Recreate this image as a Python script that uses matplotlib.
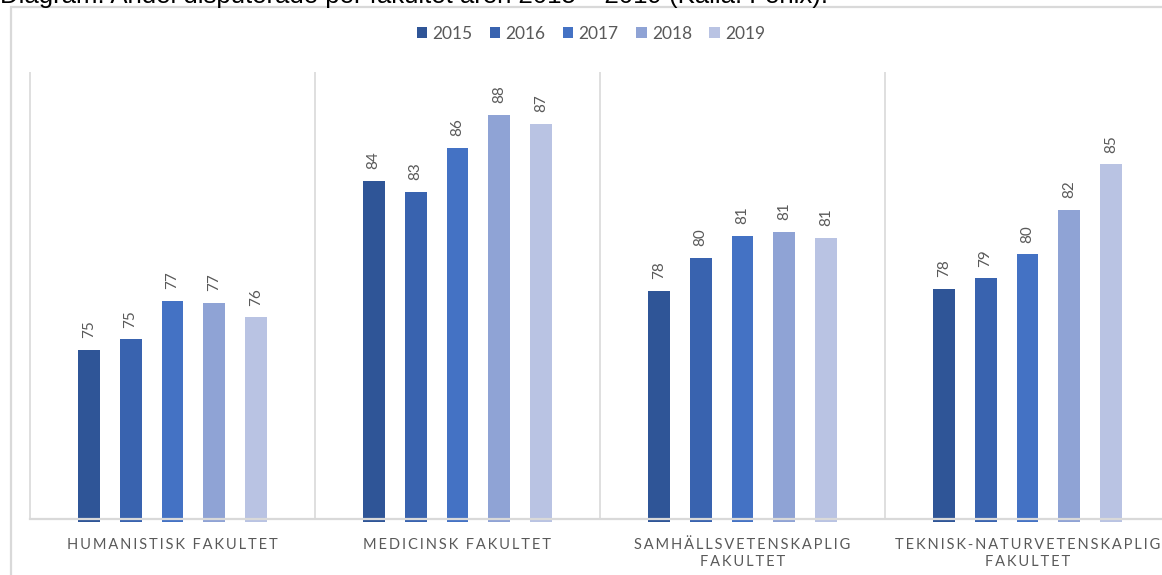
import numpy as np
import matplotlib
matplotlib.use("Agg")
import matplotlib.pyplot as plt
from matplotlib.patches import Patch, Rectangle

# --- data -------------------------------------------------------------
faculties = [
    "HUMANISTISK FAKULTET",
    "MEDICINSK FAKULTET",
    "SAMHÄLLSVETENSKAPLIG\nFAKULTET",
    "TEKNISK-NATURVETENSKAPLIG\nFAKULTET",
]
years = ["2015", "2016", "2017", "2018", "2019"]

share_2015 = [74.6, 83.98, 77.87, 77.96]
share_2016 = [75.16, 83.37, 79.68, 78.55]
share_2017 = [77.31, 85.77, 80.92, 79.88]
share_2018 = [77.18, 87.64, 81.11, 82.35]
share_2019 = [76.38, 87.13, 80.79, 84.87]
series = [share_2015, share_2016, share_2017, share_2018, share_2019]

colors = ["#2F5597", "#3963AF", "#4472C4", "#8FA3D5", "#B9C3E3"]
title = "Diagram: Andel disputerade per fakultet åren 2015 – 2019 (Källa: Fenix)."

y_min, y_max = 65.2, 90.0
grey = "#595959"
line_grey = "#D9D9D9"


def spaced(s):
    # mimic Excel's expanded letter spacing with thin spaces
    return "\n".join("\u2009".join(line) for line in s.split("\n"))


W, H = 1162, 575
fig = plt.figure(figsize=(W / 100, H / 100), dpi=100)
ax = fig.add_axes([30 / W, 56 / H, 1140 / W, 447 / H])

# chart frame (runs off the right and bottom edges like the screenshot)
fig.patches.append(Rectangle((10.5 / W, -0.1), 1.2, 1.1 - 7 / H,
                             transform=fig.transFigure, fill=False,
                             edgecolor=line_grey, linewidth=1.6))
# caption above the chart, cut by the top edge as in the screenshot
fig.text(0.0, 1 - 2.5 / H, title, fontsize=18.5, family="Liberation Sans",
         color="black", va="baseline", ha="left")

x = np.arange(len(faculties))
pitch = 0.147
width = 0.077
for i, (vals, col, yr) in enumerate(zip(series, colors, years)):
    pos = x + (i - 2) * pitch
    heights = np.array(vals) - (y_min - 0.15)
    ax.bar(pos, heights, width, bottom=y_min - 0.15, color=col,
           clip_on=False, zorder=2, label=yr)
    for px, v in zip(pos, vals):
        ax.annotate(f"{v:.0f}", xy=(px, v), xytext=(0, 8.5),
                    textcoords="offset points", rotation=90,
                    ha="center", va="bottom", fontsize=11,
                    color=grey, family="Lato")

ax.set_xlim(-0.5, len(faculties) - 0.5)
ax.set_ylim(y_min, y_max)
ax.vlines(np.arange(len(faculties) + 1) - 0.5, y_min, y_max,
          color=line_grey, linewidth=1.2, zorder=1, clip_on=False)
ax.axhline(y_min, color=line_grey, linewidth=1.6, zorder=3, clip_on=False)

for s in ax.spines.values():
    s.set_visible(False)
ax.set_yticks([])
ax.set_xticks(x)
ax.set_xticklabels([spaced(f) for f in faculties], fontsize=10.5,
                   color=grey, family="Lato", linespacing=1.2)
ax.tick_params(axis="x", length=0, pad=14)

handles = [Patch(facecolor=c, edgecolor="none") for c in colors]
fig.legend(handles, years, loc="center", ncol=5,
           bbox_to_anchor=(591 / W, 1 - 34 / H), frameon=False,
           handlelength=0.6, handleheight=0.6, handletextpad=0.3,
           columnspacing=1.0, prop={"family": "Lato", "size": 12.5},
           labelcolor=grey)

fig.savefig("out.png", dpi=100)
